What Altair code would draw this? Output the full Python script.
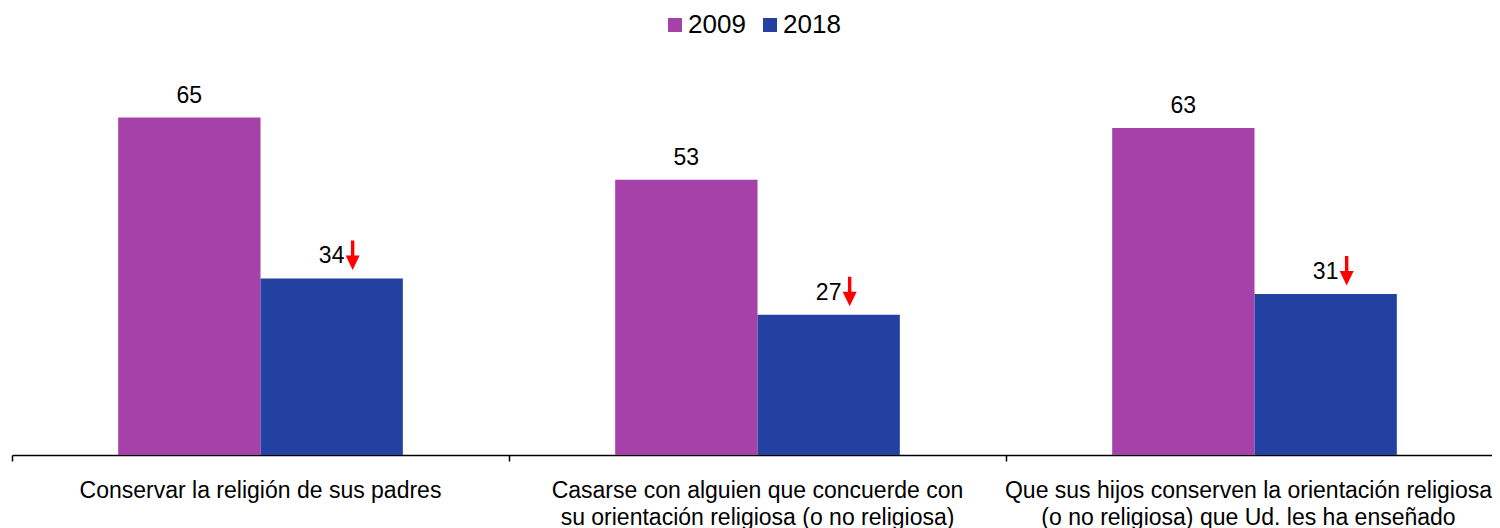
import altair as alt
import pandas as pd

categories = [
    "Conservar la religión de sus padres",
    "Casarse con alguien que concuerde con\nsu orientación religiosa (o no religiosa)",
    "Que sus hijos conserven la orientación religiosa\n(o no religiosa) que Ud. les ha enseñado",
]
years = ["2009", "2018"]
values_2009 = [65, 53, 63]
values_2018 = [34, 27, 31]
colors = ["#A541A8", "#2341A0"]

rows = []
for c, v in zip(categories, values_2009):
    rows.append({"cat": c, "year": "2009", "value": v})
for c, v in zip(categories, values_2018):
    rows.append({"cat": c, "year": "2018", "value": v})
df = pd.DataFrame(rows)

FONT = "Liberation Sans"
W, H = 1480, 405

x = alt.X(
    "cat:N",
    sort=categories,
    scale=alt.Scale(paddingInner=0, paddingOuter=0, range=[0, 1491]),
    axis=alt.Axis(
        title=None,
        labelAngle=0,
        bandPosition=0,
        labelLimit=0,
        labelOffset={"condition": {"test": "indexof(datum.value, 'Que sus') == 0", "value": -6}, "value": 0},
        labelExpr="split(datum.label, '\\n')",
        labelFont=FONT,
        labelFontSize=23,
        labelColor="black",
        labelLineHeight=27,
        labelBaseline="top",
        labelPadding=18,
        tickSize=6,
        tickColor="black",
        tickWidth=1.5,
        domainColor="black",
        domainWidth=1.5,
        grid=False,
    ),
)
xo = alt.XOffset("year:N", sort=years, scale=alt.Scale(paddingOuter=0.746, paddingInner=0))
y = alt.Y("value:Q", scale=alt.Scale(domain=[0, 78], nice=False), axis=None)

bars = alt.Chart(df).mark_bar().encode(
    x=x,
    xOffset=xo,
    y=y,
    color=alt.Color(
        "year:N",
        sort=years,
        scale=alt.Scale(domain=years, range=colors),
        legend=alt.Legend(
            title=None,
            orient="none",
            direction="horizontal",
            legendX=650,
            legendY=-38,
            symbolType="square",
            symbolSize=196,
            symbolStrokeWidth=0,
            symbolOpacity=1,
            labelFont=FONT,
            labelFontSize=26,
            labelColor="black",
            labelOffset=0,
            columnPadding=11,
            padding=0,
        ),
    ),
)

labels = alt.Chart(df).mark_text(
    font=FONT, fontSize=23, color="black", baseline="alphabetic", dy=-15
).encode(x=x, xOffset=xo, y=y, text="value:Q")

arrow_path = "M 1.93 -3.8 L 2.27 -3.8 L 2.27 -2.3 L 2.8 -2.3 L 2.1 -0.85 L 1.4 -2.3 L 1.93 -2.3 Z"
arrows = alt.Chart(df).transform_filter(alt.datum.year == "2018").mark_point(
    shape=arrow_path, size=400, filled=True, fill="#FF0000", strokeWidth=0, opacity=1
).encode(x=x, xOffset=xo, y=y)

chart = (
    alt.layer(bars, labels, arrows)
    .properties(
        width=W,
        height=H,
        autosize=alt.AutoSizeParams(type="none"),
        padding={"left": 4, "top": 42, "right": 0, "bottom": 73},
    )
    .configure_view(stroke=None)
)

chart.save("out.html", embed_options={"renderer": "svg", "actions": False})
